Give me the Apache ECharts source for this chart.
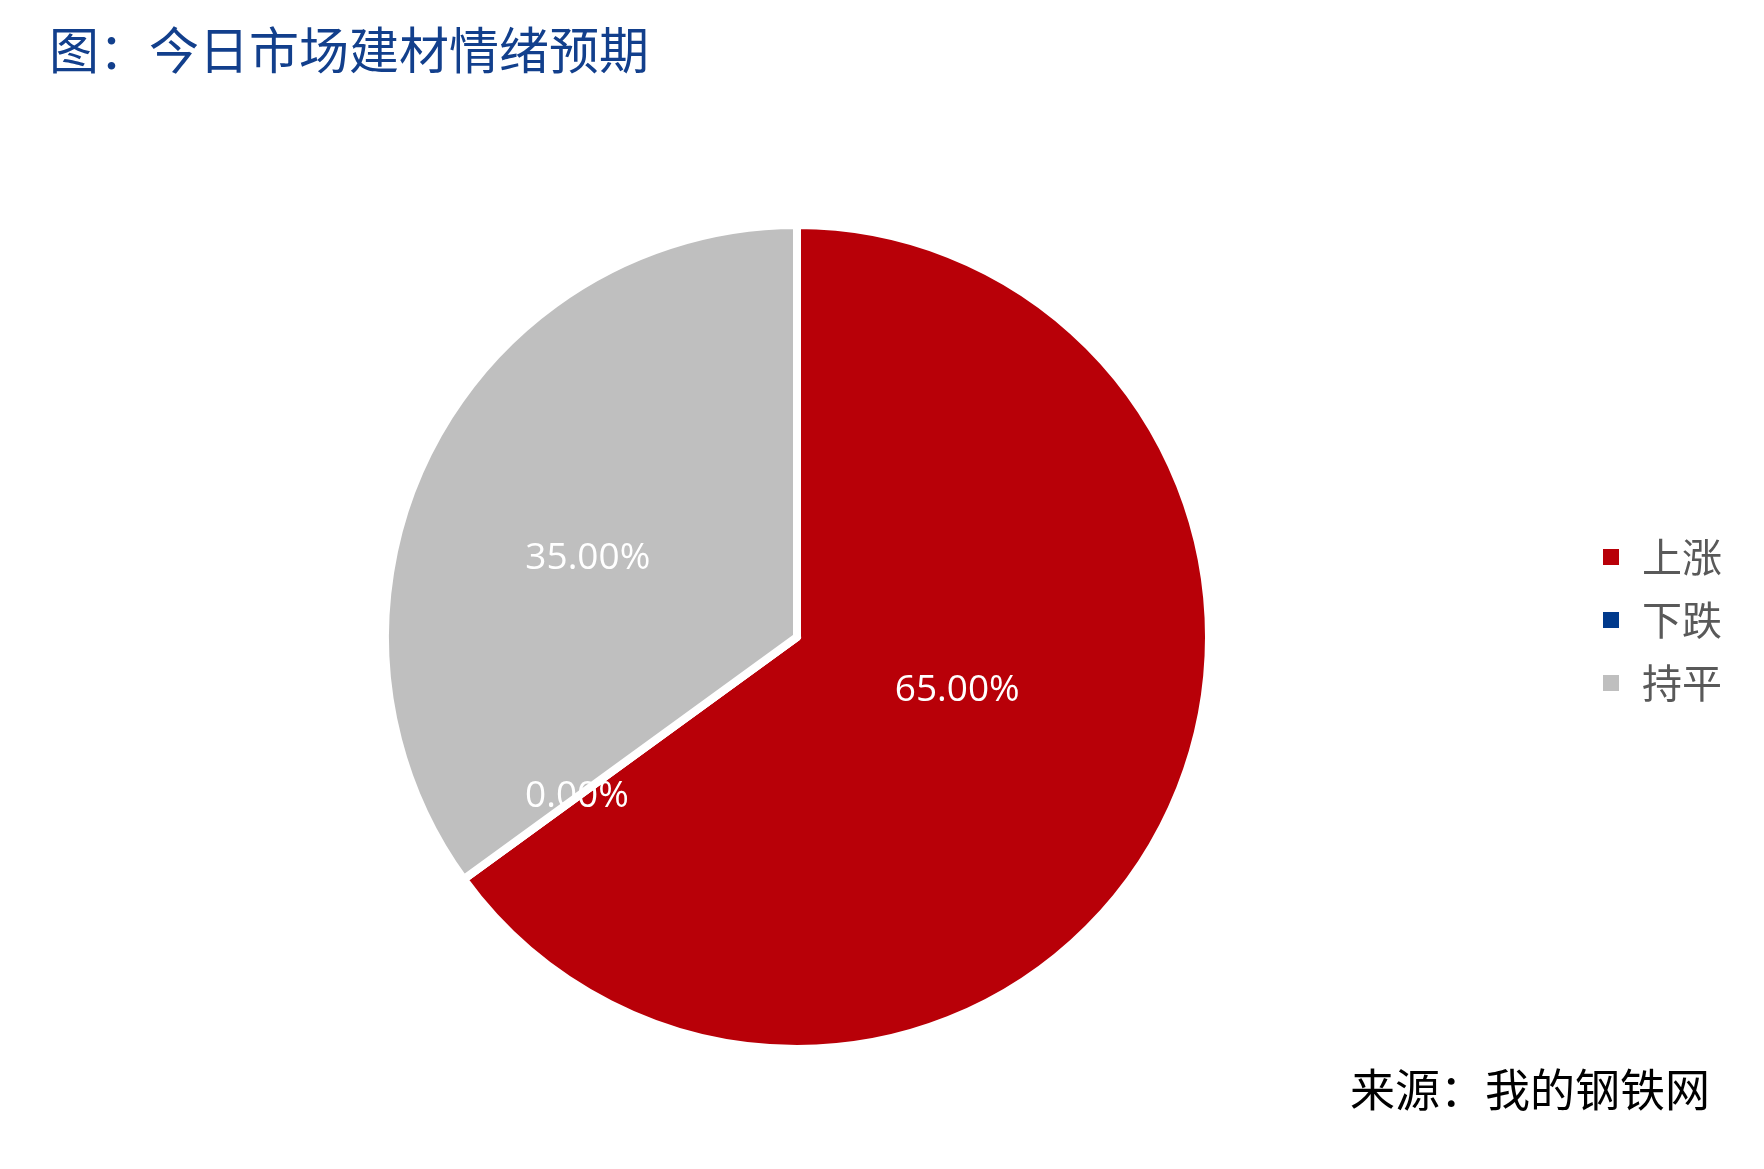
<!DOCTYPE html>
<html>
<head>
<meta charset="utf-8">
<script src="https://cdn.jsdelivr.net/npm/echarts@6/dist/echarts.min.js"></script>
<style>
  html, body { margin: 0; padding: 0; background: #fff; }
  #chart { width: 1764px; height: 1169px; }
</style>
</head>
<body>
<div id="chart"></div>
<script>
// 今日市场建材情绪预期
const categories = ['上涨', '下跌', '持平']
const values = [65, 0, 35]
const colors = ['#B80008', '#003A8C', '#BFBFBF']
// 标签微调（参照原图的标签位置）
const labelOffsets = [[-26, -41], [-51, 37], [-23, 16]]

const chart = echarts.init(document.getElementById('chart'))
chart.setOption({
  backgroundColor: '#ffffff',
  animation: false,
  title: {
    text: '图：今日市场建材情绪预期',
    left: 44,
    top: 20,
    textStyle: {
      color: '#123F8C',
      fontSize: 50,
      fontWeight: 'normal',
      fontFamily: 'Noto Sans CJK SC'
    }
  },
  legend: {
    orient: 'vertical',
    right: 37,
    top: 532,
    itemWidth: 18,
    itemHeight: 18,
    itemGap: 23,
    icon: 'rect',
    selectedMode: false,
    data: categories,
    textStyle: {
      color: '#595959',
      fontSize: 40,
      fontFamily: 'Noto Sans CJK SC',
      padding: [0, 0, 0, 17]
    }
  },
  graphic: [{
    type: 'text',
    right: 54,
    top: 1067,
    style: {
      text: '来源：我的钢铁网',
      fill: '#000000',
      fontSize: 45,
      fontFamily: 'Noto Sans CJK SC'
    }
  }],
  series: [{
    type: 'pie',
    center: [797, 637],
    radius: 412,
    startAngle: 90,
    clockwise: true,
    itemStyle: {
      borderColor: '#ffffff',
      borderWidth: 8
    },
    label: {
      show: true,
      position: 'inside',
      color: '#ffffff',
      fontSize: 37,
      fontFamily: 'Open Sans',
      formatter: p => p.percent.toFixed(2) + '%'
    },
    labelLine: { show: false },
    data: categories.map((name, i) => ({
      name: name,
      value: values[i],
      itemStyle: { color: colors[i] },
      label: { offset: labelOffsets[i] }
    }))
  }]
})
window.addEventListener('resize', () => chart.resize())
</script>
</body>
</html>
